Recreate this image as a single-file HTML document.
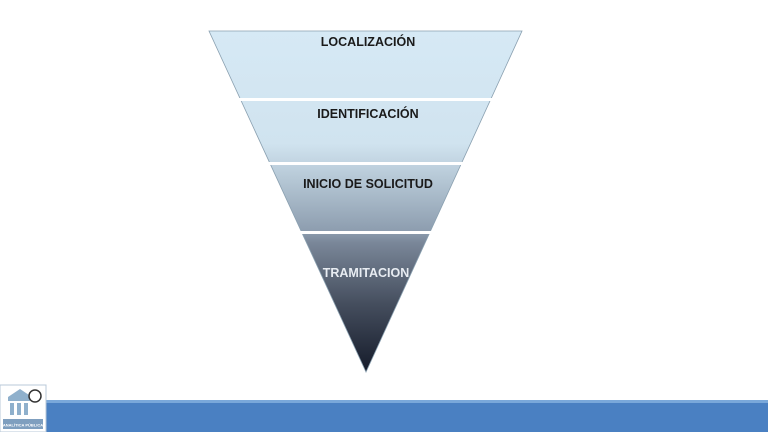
<!DOCTYPE html>
<html><head><meta charset="utf-8"><style>
body{margin:0;width:768px;height:432px;overflow:hidden;background:#fff;font-family:"Liberation Sans",sans-serif}
</style></head><body>
<svg width="768" height="432" viewBox="0 0 768 432" xmlns="http://www.w3.org/2000/svg">
<defs>
<linearGradient id="g" x1="0" y1="31" x2="0" y2="372" gradientUnits="userSpaceOnUse">
<stop offset="0" stop-color="#d6e9f5"/>
<stop offset="0.33" stop-color="#d0e3ef"/>
<stop offset="0.44" stop-color="#b4c6d4"/>
<stop offset="0.59" stop-color="#8c9cae"/>
<stop offset="0.62" stop-color="#7a8799"/>
<stop offset="0.8" stop-color="#454e5e"/>
<stop offset="1" stop-color="#151b2a"/>
</linearGradient>
</defs>
<polygon points="209,31 522,31 366,372" fill="url(#g)" stroke="#8aa0b0" stroke-width="0.8"/>
<rect x="200" y="98" width="340" height="3" fill="#fff"/>
<rect x="200" y="162" width="340" height="3" fill="#fff"/>
<rect x="200" y="231" width="340" height="3" fill="#fff"/>
<g font-weight="bold" font-size="12.5" text-anchor="middle" fill="#1a1a1a">
<text x="368" y="46">LOCALIZACIÓN</text>
<text x="368" y="118">IDENTIFICACIÓN</text>
<text x="368" y="188">INICIO DE SOLICITUD</text>
<text x="366" y="277" fill="#e8ecf2">TRAMITACION</text>
</g>
<rect x="46" y="400" width="722" height="32" fill="#4a80c2"/>
<rect x="46" y="400" width="722" height="3" fill="#7aa8da"/>
<rect x="0" y="385" width="46" height="47" fill="#fff" stroke="#b8c8d8"/>
<rect x="8" y="397" width="22" height="4" fill="#8fb0cc"/>
<polygon points="8,397 20,389 32,397" fill="#8fb0cc"/>
<rect x="10" y="403" width="4" height="12" fill="#8fb0cc"/>
<rect x="17" y="403" width="4" height="12" fill="#8fb0cc"/>
<rect x="24" y="403" width="4" height="12" fill="#8fb0cc"/>
<circle cx="35" cy="396" r="6" fill="#fff" stroke="#333" stroke-width="1.5"/>
<rect x="3" y="419" width="40" height="10" fill="#7f9fbf"/>
<text x="23" y="426.5" font-size="4" fill="#fff" text-anchor="middle" font-weight="bold">ANALÍTICA PÚBLICA</text>
</svg>
</body></html>
